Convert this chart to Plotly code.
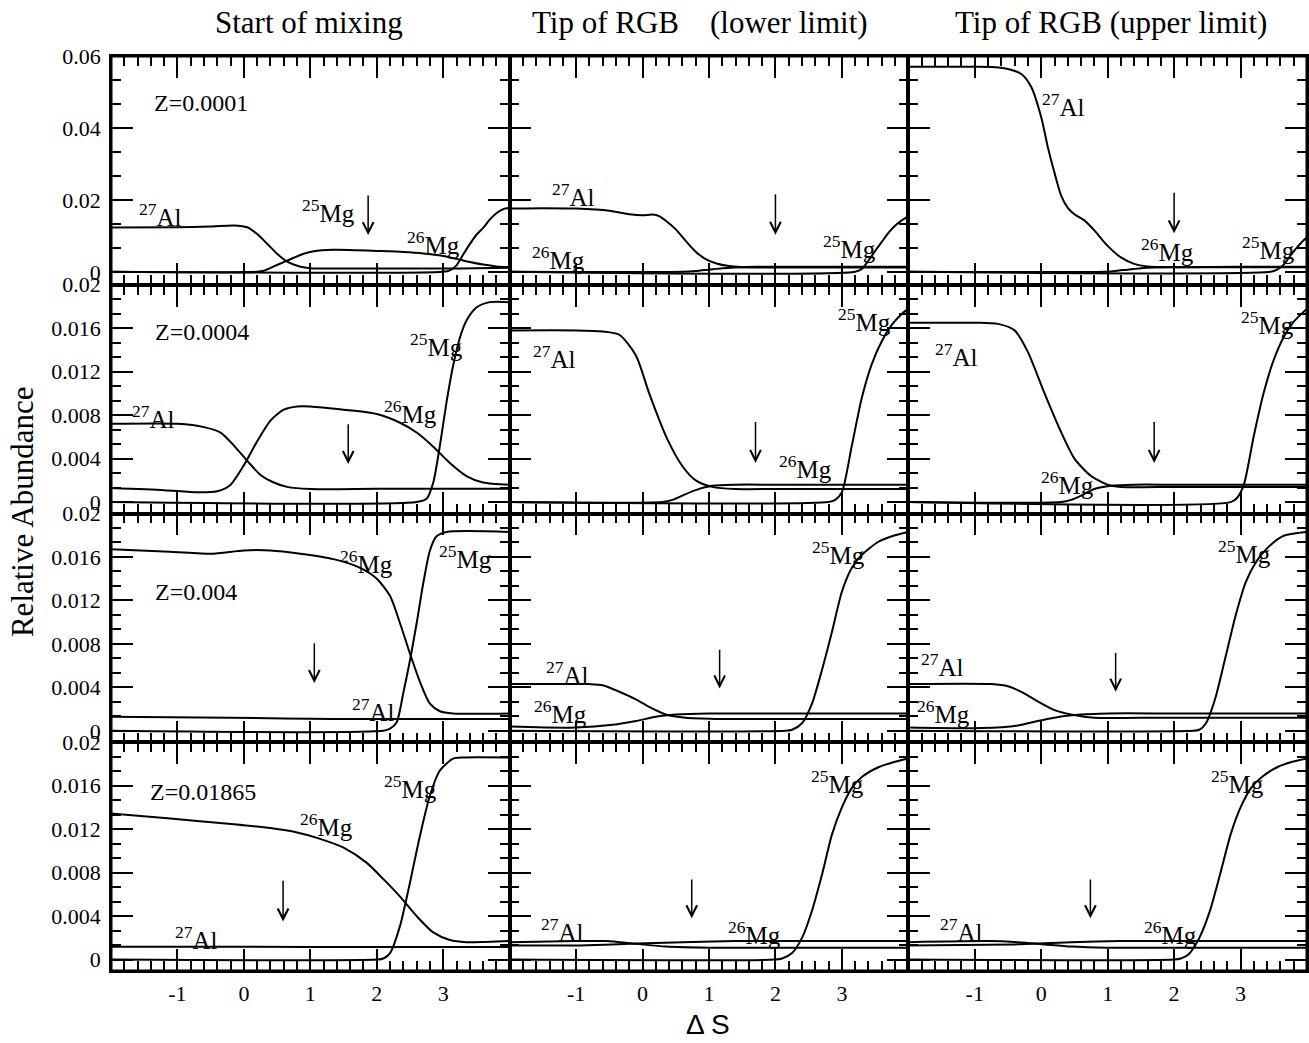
import plotly.graph_objects as go

# ------------------------------------------------------------------ data
stages = ["Start of mixing", "Tip of RGB   (lower limit)", "Tip of RGB (upper limit)"]
metallicities = ["Z=0.0001", "Z=0.0004", "Z=0.004", "Z=0.01865"]

x_tick_vals = [-1, 0, 1, 2, 3]
x_tick_text = ["-1", "0", "1", "2", "3"]
y_ticks_top = [0, 0.02, 0.04, 0.06]
y_ticks_top_text = ["0", "0.02", "0.04", "0.06"]
y_ticks_low = [0, 0.004, 0.008, 0.012, 0.016, 0.02]
y_ticks_low_text = ["0", "0.004", "0.008", "0.012", "0.016", "0.02"]

# --- Z=0.0001, start of mixing
z1_start_al_x = [-2, -1, -0.5, -0.15, 0.05, 0.2, 0.35, 0.5, 0.65, 0.85, 1.0, 1.5, 2.5, 3.0, 3.5, 4.0]
z1_start_al_y = [0.0123, 0.0124, 0.0126, 0.0129, 0.0124, 0.0105, 0.0078, 0.0050, 0.0028, 0.0014, 0.0010, 0.0009, 0.0009, 0.0009, 0.0010, 0.0011]
z1_start_mg26_x = [-2, 0.2, 0.3, 0.45, 0.6, 0.75, 0.9, 1.05, 1.35, 1.7, 2.0, 2.4, 2.7, 3.0, 3.2, 3.4, 3.6, 3.8, 4.0]
z1_start_mg26_y = [0, 0, 0.0003, 0.0015, 0.0027, 0.0039, 0.0050, 0.0057, 0.0061, 0.0060, 0.0058, 0.0055, 0.0051, 0.0044, 0.0036, 0.0027, 0.0020, 0.0015, 0.0013]
z1_start_mg25_x = [-2, 3.0, 3.1, 3.2, 3.3, 3.4, 3.5, 3.6, 3.7, 3.8, 3.9, 4.0]
z1_start_mg25_y = [0, 0, 0.0004, 0.0018, 0.0048, 0.0077, 0.0103, 0.0122, 0.0145, 0.0163, 0.0174, 0.0178]

# --- Z=0.0001, tip of RGB lower limit
z1_low_al_x = [-2, -1.5, -1, -0.5, -0.2, 0.0, 0.15, 0.25, 0.35, 0.5, 0.65, 0.8, 0.95, 1.1, 1.3, 1.5, 2.0, 3.0, 4.0]
z1_low_al_y = [0.0176, 0.0177, 0.0176, 0.0170, 0.0160, 0.0157, 0.0159, 0.0155, 0.0142, 0.0118, 0.0086, 0.0056, 0.0035, 0.0024, 0.0016, 0.0013, 0.0012, 0.0012, 0.0012]
z1_low_mg26_x = [-2, 0.6, 0.8, 1.0, 1.2, 1.4, 1.7, 2.5, 4.0]
z1_low_mg26_y = [0, 0, 0.0002, 0.0006, 0.0010, 0.0012, 0.0014, 0.0014, 0.0014]
z1_low_mg25_x = [-2, 3.2, 3.3, 3.4, 3.5, 3.6, 3.7, 3.8, 3.9, 4.0]
z1_low_mg25_y = [0, 0, 0.0008, 0.0031, 0.0058, 0.0083, 0.0108, 0.0128, 0.0143, 0.0155]

# --- Z=0.0001, tip of RGB upper limit
z1_up_al_x = [-2, -1, -0.7, -0.5, -0.3, -0.15, 0.0, 0.1, 0.2, 0.3, 0.4, 0.5, 0.65, 0.8, 1.0, 1.2, 1.4, 1.6, 2.0, 3.0, 4.0]
z1_up_al_y = [0.0570, 0.0570, 0.0569, 0.0564, 0.0550, 0.0514, 0.0430, 0.0346, 0.0275, 0.0212, 0.0178, 0.0160, 0.0143, 0.0115, 0.0072, 0.0040, 0.0022, 0.0015, 0.0013, 0.0013, 0.0013]
z1_up_mg26_x = [-2, 0.95, 1.1, 1.3, 1.5, 1.7, 2.0, 3.0, 4.0]
z1_up_mg26_y = [0, 0, 0.0002, 0.0006, 0.0010, 0.0012, 0.0013, 0.0014, 0.0014]
z1_up_mg25_x = [-2, 3.45, 3.55, 3.65, 3.75, 3.85, 3.95, 4.0]
z1_up_mg25_y = [0, 0, 0.0006, 0.0020, 0.0045, 0.0068, 0.0088, 0.0095]

# --- Z=0.0004, start of mixing
z2_start_al_x = [-2, -1, -0.6, -0.35, -0.15, 0.05, 0.25, 0.45, 0.65, 1.0, 2.0, 3.0, 4.0]
z2_start_al_y = [0.0072, 0.0072, 0.0069, 0.0064, 0.0052, 0.0038, 0.0025, 0.0018, 0.0014, 0.0012, 0.00122, 0.00122, 0.00122]
z2_start_mg26_x = [-2, -1.2, -0.7, -0.4, -0.2, 0.0, 0.2, 0.4, 0.6, 0.8, 1.0, 1.5, 2.0, 2.35, 2.6, 2.85, 3.1, 3.35, 3.6, 4.0]
z2_start_mg26_y = [0.0013, 0.0011, 0.0009, 0.0010, 0.0016, 0.0034, 0.0056, 0.0075, 0.0085, 0.0088, 0.0088, 0.0085, 0.0081, 0.0073, 0.0064, 0.0051, 0.0036, 0.0024, 0.0018, 0.0016]
z2_start_mg25_x = [-2, 2.6, 2.75, 2.85, 2.95, 3.05, 3.15, 3.25, 3.35, 3.5, 3.7, 4.0]
z2_start_mg25_y = [0, 0, 0.0003, 0.0018, 0.0052, 0.0092, 0.0126, 0.0151, 0.0167, 0.0179, 0.0184, 0.0184]

# --- Z=0.0004, lower limit
z2_low_al_x = [-2, -1, -0.6, -0.35, -0.1, 0.1, 0.35, 0.6, 0.8, 1.05, 1.4, 2.0, 3.0, 4.0]
z2_low_al_y = [0.0158, 0.0158, 0.0157, 0.0154, 0.0135, 0.0100, 0.0061, 0.0033, 0.0020, 0.0014, 0.0012, 0.0012, 0.0012, 0.0012]
z2_low_mg26_x = [-2, 0.3, 0.45, 0.6, 0.8, 1.05, 1.4, 2.0, 4.0]
z2_low_mg26_y = [0, 0, 0.0002, 0.0006, 0.0011, 0.0015, 0.0016, 0.0016, 0.0016]
z2_low_mg25_x = [-2, 2.8, 2.9, 3.0, 3.15, 3.3, 3.45, 3.6, 3.75, 3.9, 4.0]
z2_low_mg25_y = [0, 0, 0.0002, 0.0009, 0.0052, 0.0096, 0.0127, 0.0148, 0.0163, 0.0173, 0.0178]

# --- Z=0.0004, upper limit
z2_up_al_x = [-2, -1, -0.65, -0.4, -0.2, 0.05, 0.28, 0.5, 0.75, 1.0, 1.2, 2.0, 3.0, 4.0]
z2_up_al_y = [0.0165, 0.0165, 0.0164, 0.0158, 0.0138, 0.0100, 0.0067, 0.0040, 0.0024, 0.0016, 0.0014, 0.0014, 0.0014, 0.0014]
z2_up_mg26_x = [-2, 0.3, 0.45, 0.6, 0.8, 1.05, 1.4, 2.0, 4.0]
z2_up_mg26_y = [0, 0, 0.0002, 0.0006, 0.0012, 0.0015, 0.0016, 0.0016, 0.0016]
z2_up_mg25_x = [-2, 2.85, 2.95, 3.05, 3.2, 3.35, 3.5, 3.65, 3.8, 4.0]
z2_up_mg25_y = [0, 0, 0.0004, 0.0016, 0.0061, 0.0101, 0.0131, 0.0152, 0.0166, 0.0178]

# --- Z=0.004, start of mixing
z3_start_al_x = [-2, -0.2, 1.35, 4.0]
z3_start_al_y = [0.0013, 0.0012, 0.0011, 0.0011]
z3_start_mg26_x = [-2, -1.2, -0.5, 0.0, 0.4, 0.85, 1.35, 1.75, 2.0, 2.2, 2.35, 2.5, 2.65, 2.8, 2.95, 3.15, 4.0]
z3_start_mg26_y = [0.0167, 0.0165, 0.0163, 0.0166, 0.0166, 0.0163, 0.0158, 0.0150, 0.0140, 0.0124, 0.0099, 0.0071, 0.0045, 0.0025, 0.0018, 0.0016, 0.0016]
z3_start_mg25_x = [-2, 2.1, 2.2, 2.3, 2.4, 2.5, 2.6, 2.7, 2.8, 2.9, 3.05, 4.0]
z3_start_mg25_y = [0, 0, 0.0002, 0.0008, 0.0035, 0.0065, 0.0099, 0.0136, 0.0166, 0.0179, 0.0183, 0.0183]

# --- Z=0.004, lower limit
z3_low_al_x = [-2, -0.8, -0.6, -0.35, -0.1, 0.1, 0.35, 0.65, 1.1, 2.0, 4.0]
z3_low_al_y = [0.0043, 0.0043, 0.0042, 0.0036, 0.0029, 0.0022, 0.0015, 0.0012, 0.0011, 0.0011, 0.0011]
z3_low_mg26_x = [-2, -1.0, -0.45, -0.1, 0.2, 0.5, 1.0, 2.0, 4.0]
z3_low_mg26_y = [0.0004, 0.0003, 0.00055, 0.0009, 0.0013, 0.0015, 0.0016, 0.0016, 0.0016]
z3_low_mg25_x = [-2, 2.15, 2.25, 2.4, 2.55, 2.7, 2.85, 3.0, 3.15, 3.3, 3.55, 3.8, 4.0]
z3_low_mg25_y = [0, 0, 0.0001, 0.0007, 0.0025, 0.0056, 0.0091, 0.0128, 0.0150, 0.0162, 0.0174, 0.0180, 0.0183]

# --- Z=0.004, upper limit
z3_up_al_x = [-2, -0.75, -0.5, -0.27, -0.05, 0.2, 0.45, 0.8, 1.5, 4.0]
z3_up_al_y = [0.0043, 0.0043, 0.0041, 0.0035, 0.0027, 0.0019, 0.0015, 0.0012, 0.0012, 0.0012]
z3_up_mg26_x = [-2, -0.9, -0.35, -0.05, 0.28, 0.6, 1.0, 2.0, 4.0]
z3_up_mg26_y = [0.0003, 0.00025, 0.0005, 0.0009, 0.0013, 0.0015, 0.0016, 0.0016, 0.0016]
z3_up_mg25_x = [-2, 2.28, 2.38, 2.48, 2.62, 2.77, 2.93, 3.08, 3.24, 3.4, 3.63, 3.86, 4.0]
z3_up_mg25_y = [0, 0, 0.0001, 0.0007, 0.0030, 0.0067, 0.0107, 0.0137, 0.0156, 0.0168, 0.0179, 0.0182, 0.0183]

# --- Z=0.01865, start of mixing
z4_start_al_x = [-2, 1.0, 4.0]
z4_start_al_y = [0.00118, 0.00117, 0.00117]
z4_start_mg26_x = [-2, -1.15, -0.15, 0.4, 0.8, 1.1, 1.5, 1.85, 2.1, 2.35, 2.6, 2.85, 3.1, 3.35, 4.0]
z4_start_mg26_y = [0.01345, 0.0130, 0.01246, 0.0121, 0.0117, 0.0112, 0.0103, 0.0089, 0.0074, 0.0058, 0.0040, 0.0025, 0.0018, 0.0016, 0.0017]
z4_start_mg25_x = [-2, 2.0, 2.1, 2.2, 2.35, 2.5, 2.65, 2.8, 2.95, 3.15, 3.3, 4.0]
z4_start_mg25_y = [0, 0, 0.0001, 0.0006, 0.0031, 0.0071, 0.0114, 0.0151, 0.0174, 0.0185, 0.0186, 0.0186]

# --- Z=0.01865, lower limit
z4_low_al_x = [-2, -1.0, -0.55, -0.1, 0.35, 1.0, 4.0]
z4_low_al_y = [0.0016, 0.0017, 0.0017, 0.00145, 0.0012, 0.0011, 0.0011]
z4_low_mg26_x = [-2, -1.0, -0.45, 0.05, 0.6, 1.4, 4.0]
z4_low_mg26_y = [0.0013, 0.0013, 0.0014, 0.0015, 0.0016, 0.0017, 0.0017]
z4_low_mg25_x = [-2, 2.0, 2.1, 2.25, 2.4, 2.55, 2.7, 2.85, 3.0, 3.15, 3.3, 3.55, 3.8, 4.0]
z4_low_mg25_y = [0, 0, 0.0001, 0.0006, 0.0020, 0.0045, 0.0078, 0.0115, 0.0140, 0.0158, 0.0168, 0.0177, 0.0182, 0.0185]

# --- Z=0.01865, upper limit
z4_up_al_x = [-2, -0.8, -0.35, 0.05, 0.45, 1.0, 4.0]
z4_up_al_y = [0.0016, 0.0017, 0.0016, 0.0014, 0.0012, 0.0011, 0.0011]
z4_up_mg26_x = [-2, -0.4, 0.05, 0.45, 1.2, 4.0]
z4_up_mg26_y = [0.0013, 0.0014, 0.0015, 0.0016, 0.0017, 0.0017]
z4_up_mg25_x = [-2, 2.0, 2.1, 2.22, 2.38, 2.54, 2.69, 2.85, 3.0, 3.16, 3.32, 3.55, 3.78, 4.0]
z4_up_mg25_y = [0, 0, 0.0001, 0.0005, 0.0020, 0.0045, 0.0078, 0.0115, 0.0140, 0.0158, 0.0168, 0.0177, 0.0182, 0.0185]

# arrows (Delta S position marked in each panel, tail and tip abundance)
arrow_x = [1.87, 2.0, 2.0, 1.57, 1.70, 1.70, 1.06, 1.16, 1.12, 0.59, 0.74, 0.74]
arrow_tail = [0.0216, 0.0220, 0.0224, 0.0073, 0.0075, 0.0075, 0.0082, 0.0076, 0.0073, 0.0074, 0.0075, 0.0075]
arrow_tip = [0.0102, 0.0103, 0.0107, 0.0035, 0.0036, 0.0036, 0.0044, 0.0039, 0.0036, 0.0035, 0.0038, 0.0038]

AL = "<sup>27</sup>Al"
M25 = "<sup>25</sup>Mg"
M26 = "<sup>26</sup>Mg"

# ------------------------------------------------------------------ panels
panels = [
    dict(curves=[(z1_start_al_x, z1_start_al_y), (z1_start_mg26_x, z1_start_mg26_y), (z1_start_mg25_x, z1_start_mg25_y)],
         labels=[(AL, -1.61, 0.0158), (M25, 0.84, 0.0169), (M26, 2.42, 0.0080)]),
    dict(curves=[(z1_low_al_x, z1_low_al_y), (z1_low_mg26_x, z1_low_mg26_y), (z1_low_mg25_x, z1_low_mg25_y)],
         labels=[(AL, -1.39, 0.0214), (M26, -1.69, 0.0038), (M25, 2.69, 0.0069)]),
    dict(curves=[(z1_up_al_x, z1_up_al_y), (z1_up_mg26_x, z1_up_mg26_y), (z1_up_mg25_x, z1_up_mg25_y)],
         labels=[(AL, -0.02, 0.0464), (M26, 1.47, 0.0061), (M25, 2.99, 0.0066)]),
    dict(curves=[(z2_start_al_x, z2_start_al_y), (z2_start_mg26_x, z2_start_mg26_y), (z2_start_mg25_x, z2_start_mg25_y)],
         labels=[(AL, -1.72, 0.00783), (M25, 2.47, 0.01446), (M26, 2.08, 0.0083)]),
    dict(curves=[(z2_low_al_x, z2_low_al_y), (z2_low_mg26_x, z2_low_mg26_y), (z2_low_mg25_x, z2_low_mg25_y)],
         labels=[(AL, -1.68, 0.01335), (M25, 2.91, 0.01676), (M26, 2.02, 0.00323)]),
    dict(curves=[(z2_up_al_x, z2_up_al_y), (z2_up_mg26_x, z2_up_mg26_y), (z2_up_mg25_x, z2_up_mg25_y)],
         labels=[(AL, -1.63, 0.01354), (M25, 2.97, 0.01648), (M26, -0.03, 0.00176)]),
    dict(curves=[(z3_start_al_x, z3_start_al_y), (z3_start_mg26_x, z3_start_mg26_y), (z3_start_mg25_x, z3_start_mg25_y)],
         labels=[(M26, 1.42, 0.01554), (M25, 2.90, 0.0160), (AL, 1.60, 0.00192)]),
    dict(curves=[(z3_low_al_x, z3_low_al_y), (z3_low_mg26_x, z3_low_mg26_y), (z3_low_mg25_x, z3_low_mg25_y)],
         labels=[(AL, -1.48, 0.00533), (M26, -1.66, 0.00174), (M25, 2.52, 0.01637)]),
    dict(curves=[(z3_up_al_x, z3_up_al_y), (z3_up_mg26_x, z3_up_mg26_y), (z3_up_mg25_x, z3_up_mg25_y)],
         labels=[(AL, -1.84, 0.00607), (M26, -1.90, 0.00174), (M25, 2.63, 0.01646)]),
    dict(curves=[(z4_start_al_x, z4_start_al_y), (z4_start_mg26_x, z4_start_mg26_y), (z4_start_mg25_x, z4_start_mg25_y)],
         labels=[(M25, 2.08, 0.01589), (M26, 0.81, 0.01239), (AL, -1.07, 0.0020)]),
    dict(curves=[(z4_low_al_x, z4_low_al_y), (z4_low_mg26_x, z4_low_mg26_y), (z4_low_mg25_x, z4_low_mg25_y)],
         labels=[(AL, -1.56, 0.00273), (M26, 1.25, 0.00245), (M25, 2.50, 0.01634)]),
    dict(curves=[(z4_up_al_x, z4_up_al_y), (z4_up_mg26_x, z4_up_mg26_y), (z4_up_mg25_x, z4_up_mg25_y)],
         labels=[(AL, -1.55, 0.00273), (M26, 1.52, 0.00245), (M25, 2.53, 0.01634)]),
]
z_label_pos = [(-1.38, 0.0469), (-1.37, 0.01565), (-1.37, 0.01278), (-1.44, 0.01542)]

ROW_RANGES = [[-0.0036, 0.06], [-0.00105, 0.02], [-0.00105, 0.02], [-0.00105, 0.02]]
SERIF = "Liberation Serif"

fig = go.Figure()
layout = {}
annotations = []

tick_font = dict(family=SERIF, size=22, color="black")
axis_common = dict(showline=True, linecolor="black", linewidth=1.5, mirror="ticks",
                   ticks="inside", ticklen=22, tickwidth=2, tickcolor="black",
                   showgrid=False, zeroline=False, tickfont=tick_font, fixedrange=True)

for k, p in enumerate(panels):
    r, c = divmod(k, 3)
    sfx = "" if k == 0 else str(k + 1)
    xref, yref = "x" + sfx, "y" + sfx
    for xs, ys in p["curves"]:
        fig.add_trace(go.Scatter(x=xs, y=ys, mode="lines",
                                 line=dict(color="black", width=2, shape="spline", smoothing=0.7),
                                 xaxis=xref, yaxis=yref, showlegend=False, hoverinfo="skip"))
    layout["xaxis" + sfx] = dict(axis_common, domain=[c / 3, (c + 1) / 3], anchor=yref,
                                 range=[-2, 4], tickmode="array", tickvals=x_tick_vals,
                                 ticktext=x_tick_text, showticklabels=(r == 3), ticklabelstandoff=2,
                                 minor=dict(ticks="inside", ticklen=10, tickwidth=2, tickcolor="black",
                                            tickmode="linear", tick0=-2, dtick=0.2, showgrid=False))
    if r == 0:
        yt, ytt, ydt = y_ticks_top, y_ticks_top_text, 0.02 / 3
    else:
        yt, ytt, ydt = y_ticks_low, y_ticks_low_text, 0.004 / 3
    layout["yaxis" + sfx] = dict(axis_common, domain=[1 - (r + 1) / 4, 1 - r / 4], anchor=xref,
                                 range=ROW_RANGES[r], tickmode="array", tickvals=yt, ticktext=ytt,
                                 showticklabels=(c == 0), ticklabelstandoff=4,
                                 minor=dict(ticks="inside", ticklen=10, tickwidth=2, tickcolor="black",
                                            tickmode="linear", tick0=0, dtick=ydt, showgrid=False))
    for txt, lx, ly in p["labels"]:
        annotations.append(dict(text=txt, x=lx, y=ly, xref=xref, yref=yref, xanchor="left",
                                yanchor="middle", showarrow=False,
                                font=dict(family=SERIF, size=25, color="black")))
    annotations.append(dict(text="", x=arrow_x[k], y=arrow_tip[k], ax=arrow_x[k], ay=arrow_tail[k],
                            xref=xref, yref=yref, axref=xref, ayref=yref, showarrow=True,
                            arrowhead=5, arrowsize=1.4, arrowwidth=1.5, arrowcolor="black", standoff=0))
    if c == 0:
        zx, zy = z_label_pos[r]
        annotations.append(dict(text=metallicities[r], x=zx, y=zy, xref=xref, yref=yref,
                                xanchor="left", yanchor="middle", showarrow=False,
                                font=dict(family=SERIF, size=24, color="black")))

title_x = [0.1658, 0.4928, 0.8363]
for c, t in enumerate(stages):
    annotations.append(dict(text=t.replace("   ", "&nbsp;&nbsp;&nbsp; "), x=title_x[c], y=1.037, xref="paper",
                            yref="paper", xanchor="center", yanchor="middle", showarrow=False,
                            font=dict(family=SERIF, size=31, color="black")))

annotations.append(dict(text="Relative Abundance", x=-0.0744, y=0.5016, xref="paper", yref="paper",
                        textangle=-90, xanchor="center", yanchor="middle", showarrow=False,
                        font=dict(family=SERIF, size=31, color="black")))
annotations.append(dict(text="\u0394 S", x=0.499, y=-0.059, xref="paper", yref="paper",
                        xanchor="center", yanchor="middle", showarrow=False,
                        font=dict(family="Liberation Sans", size=28, color="black")))

frame = [dict(type="rect", xref="paper", yref="paper", x0=0, x1=1, y0=0, y1=1,
              line=dict(color="black", width=3), fillcolor="rgba(0,0,0,0)", layer="above")]

layout.update(width=1309, height=1043, template="none",
              margin=dict(l=111, r=2, t=56, b=72, autoexpand=False),
              paper_bgcolor="white", plot_bgcolor="white",
              font=dict(family=SERIF, color="black"),
              annotations=annotations, shapes=frame, showlegend=False)
fig.update_layout(layout)

fig.write_html("out.html", config={"displayModeBar": False},
               post_script="document.body.style.margin='0';")
